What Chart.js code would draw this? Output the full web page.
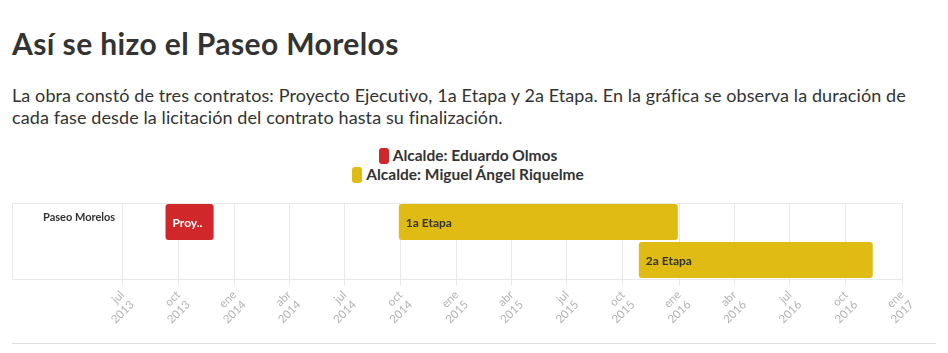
<!DOCTYPE html>
<html>
<head>
<meta charset="utf-8">
<script src="https://cdn.jsdelivr.net/npm/chart.js@4"></script>
<style>
  body { margin: 0; background: #fff; font-family: Lato, sans-serif; color: #333; }
  #wrap { position: relative; width: 948px; height: 353px; overflow: hidden; }
  h1 { position: absolute; left: 12px; top: 25px; margin: 0; font-size: 30px; letter-spacing: 0.4px; font-weight: 700; color: #333; }
  .sub { position: absolute; left: 12px; top: 84px; width: 910px; margin: 0; font-size: 18px; letter-spacing: 0.1px; line-height: 22px; color: #333; }
  #legend { position: absolute; left: 0; top: 146px; width: 936px; text-align: center; }
  .item { font-size: 15.5px; font-weight: 700; line-height: 19px; color: #333; }
  .box { display: inline-block; width: 10px; height: 16px; border-radius: 3px; vertical-align: -3px; margin-right: 4px; }
  #chartBox { position: absolute; left: 0; top: 190px; width: 948px; height: 150px; }
  .rule { position: absolute; left: 12px; right: 12px; top: 343px; border-top: 1px solid #ddd; }
</style>
</head>
<body>
<div id="wrap">
  <h1>Así se hizo el Paseo Morelos</h1>
  <p class="sub">La obra constó de tres contratos: Proyecto Ejecutivo, 1a Etapa y 2a Etapa. En la gráfica se observa la duración de cada fase desde la licitación del contrato hasta su finalización.</p>
  <div id="legend"></div>
  <div id="chartBox"><canvas id="chart"></canvas></div>
  <div class="rule"></div>
</div>
<script>
// lanes of the gantt row
const lanes = ['Paseo Morelos', ''];

// contracts
const phaseNames = ['Proyecto Ejecutivo', '1a Etapa', '2a Etapa'];
const phaseStart = ['2013-09-10', '2014-09-28', '2015-10-27'];
const phaseEnd = ['2013-11-28', '2015-12-30', '2016-11-14'];
const phaseLane = [0, 0, 1];
const phaseMayor = [0, 1, 1];

// mayors (one dataset each)
const mayors = ['Alcalde: Eduardo Olmos', 'Alcalde: Miguel Ángel Riquelme'];
const mayorColors = ['#d0272b', '#dfbb14'];
const mayorTextColors = ['#ffffff', '#333333'];

// time axis
const axisStart = '2013-01-01';
const axisEnd = '2017-01-01';
const tickDates = ['2013-07-01', '2013-10-01', '2014-01-01', '2014-04-01', '2014-07-01', '2014-10-01',
    '2015-01-01', '2015-04-01', '2015-07-01', '2015-10-01', '2016-01-01', '2016-04-01', '2016-07-01',
    '2016-10-01', '2017-01-01'];
const tickLabels = ['jul 2013', 'oct 2013', 'ene 2014', 'abr 2014', 'jul 2014', 'oct 2014',
    'ene 2015', 'abr 2015', 'jul 2015', 'oct 2015', 'ene 2016', 'abr 2016', 'jul 2016',
    'oct 2016', 'ene 2017'];

function toDay(s) {
    const p = s.split('-');
    return Date.UTC(+p[0], +p[1] - 1, +p[2]) / 864e5;
}

const datasets = mayors.map((m, i) => ({
    label: m,
    backgroundColor: mayorColors[i],
    textColor: mayorTextColors[i],
    grouped: false,
    data: phaseNames
        .map((name, k) => k)
        .filter(k => phaseMayor[k] === i)
        .map(k => ({ x: [toDay(phaseStart[k]), toDay(phaseEnd[k])], y: lanes[phaseLane[k]], name: phaseNames[k] }))
}));

// light frame around the plot area
const framePlugin = {
    id: 'frame',
    beforeDatasetsDraw(chart) {
        const a = chart.chartArea, ctx = chart.ctx;
        ctx.save();
        ctx.strokeStyle = '#e8e8e8';
        ctx.lineWidth = 1;
        ctx.strokeRect(Math.round(a.left) + 0.5, Math.round(a.top) + 0.5, Math.round(a.right - a.left), Math.round(a.bottom - a.top));
        ctx.restore();
    }
};

// names written inside the bars, shortened when they do not fit
const barLabels = {
    id: 'barLabels',
    afterDatasetsDraw(chart) {
        const ctx = chart.ctx;
        ctx.save();
        ctx.font = 'bold 12px Lato, sans-serif';
        ctx.textBaseline = 'middle';
        ctx.textAlign = 'left';
        chart.data.datasets.forEach((ds, di) => {
            chart.getDatasetMeta(di).data.forEach((bar, j) => {
                const left = Math.min(bar.x, bar.base);
                const w = Math.abs(bar.x - bar.base);
                let t = ds.data[j].name;
                if (ctx.measureText(t).width > w - 14) {
                    while (t.length > 1 && ctx.measureText(t + '..').width > w - 14) t = t.slice(0, -1);
                    t = t + '..';
                }
                ctx.fillStyle = ds.textColor;
                ctx.fillText(t, left + 7, bar.y + 1);
            });
        });
        ctx.restore();
    }
};

const chart = new Chart(document.getElementById('chart'), {
    type: 'bar',
    data: { labels: lanes, datasets: datasets },
    options: {
        indexAxis: 'y',
        responsive: true,
        maintainAspectRatio: false,
        animation: false,
        barPercentage: 0.95,
        categoryPercentage: 1,
        borderRadius: 3,
        borderSkipped: false,
        layout: { padding: { left: 12, right: 46, top: 13, bottom: 0 } },
        plugins: { legend: { display: false }, tooltip: { enabled: false } },
        scales: {
            x: {
                type: 'linear',
                min: toDay(axisStart),
                max: toDay(axisEnd),
                afterBuildTicks: scale => { scale.ticks = tickDates.map(d => ({ value: toDay(d) })); },
                afterFit: scale => { scale.height = 61; },
                grid: { color: '#e8e8e8', tickLength: 6 },
                border: { display: false },
                ticks: {
                    autoSkip: false,
                    minRotation: 45,
                    maxRotation: 45,
                    color: '#b3b3b3',
                    font: { family: 'Lato', size: 11.5 },
                    callback: (v, i) => tickLabels[i].split(' ')
                }
            },
            y: {
                grid: { display: false },
                border: { display: false },
                afterFit: scale => {
                    scale.width = 0;
                    scale.paddingTop = 0;
                    scale.paddingBottom = 0;
                },
                ticks: {
                    mirror: true,
                    padding: 31,
                    labelOffset: -5,
                    color: '#333',
                    font: { family: 'Lato', size: 11, weight: 'bold' }
                }
            }
        }
    },
    plugins: [framePlugin, barLabels]
});

// html legend, two centred lines as in the original
const legend = document.getElementById('legend');
chart.data.datasets.forEach(ds => {
    const row = document.createElement('div');
    row.className = 'item';
    row.innerHTML = '<span class="box" style="background:' + ds.backgroundColor + '"></span>' + ds.label;
    legend.appendChild(row);
});
</script>
</body>
</html>
